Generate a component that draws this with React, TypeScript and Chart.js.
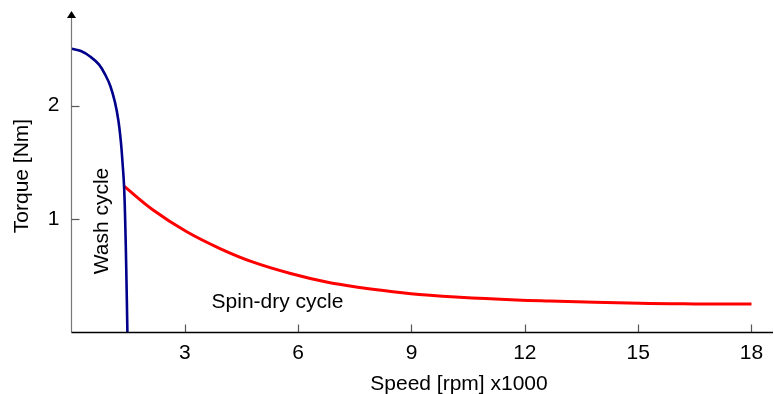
import React, { useEffect, useRef } from "react";
import { Chart, registerables } from "chart.js";

Chart.register(...registerables);

const washX = [0, 0.25, 0.5, 0.73, 0.91, 1.03, 1.15, 1.24, 1.31, 1.35, 1.39, 1.42, 1.45, 1.48];
const washY = [2.5, 2.48, 2.43, 2.36, 2.26, 2.17, 2.03, 1.87, 1.67, 1.5, 1.3, 1.0, 0.55, 0];

const spinX = [1.39, 2.16, 3.04, 3.93, 4.81, 5.8, 6.75, 7.63, 8.51, 9.4, 10.28, 11.78, 12.66, 15.04, 16.5, 18.0];
const spinY = [1.29, 1.08, 0.89, 0.74, 0.62, 0.52, 0.445, 0.397, 0.36, 0.33, 0.31, 0.287, 0.278, 0.257, 0.252, 0.251];

const xTicks = [3, 6, 9, 12, 15, 18];
const yTicks = [1, 2];

const xTitle = "Speed [rpm] x1000";
const yTitle = "Torque [Nm]";
const washLabel = "Wash cycle";
const spinLabel = "Spin-dry cycle";

const FONT_FAMILY = "'Liberation Sans', Arial, Helvetica, sans-serif";
const FONT_SIZE = 21;

const axesPlugin = {
  id: "customAxes",
  afterDraw(chart: any) {
    const ctx = chart.ctx;
    const { left, right, top, bottom } = chart.chartArea;
    const xs = chart.scales.x;
    const ys = chart.scales.y;
    ctx.save();
    // y axis line
    ctx.strokeStyle = "#777777";
    ctx.lineWidth = 1.2;
    ctx.beginPath();
    ctx.moveTo(left, bottom);
    ctx.lineTo(left, top);
    ctx.stroke();
    // y ticks (inward)
    ctx.strokeStyle = "#555555";
    yTicks.forEach((v) => {
      const p = Math.round(ys.getPixelForValue(v)) + 0.5;
      ctx.beginPath();
      ctx.moveTo(left, p);
      ctx.lineTo(left + 8, p);
      ctx.stroke();
    });
    // x ticks (inward)
    xTicks.forEach((v) => {
      const p = Math.round(xs.getPixelForValue(v)) + 0.5;
      ctx.beginPath();
      ctx.moveTo(p, bottom);
      ctx.lineTo(p, bottom - 8);
      ctx.stroke();
    });
    // x axis line
    ctx.strokeStyle = "#000000";
    ctx.lineWidth = 1.5;
    ctx.beginPath();
    ctx.moveTo(left, bottom);
    ctx.lineTo(right, bottom);
    ctx.stroke();
    // arrow
    ctx.fillStyle = "#000000";
    ctx.beginPath();
    ctx.moveTo(left, top - 6);
    ctx.lineTo(left - 4.5, top + 1);
    ctx.lineTo(left + 4.5, top + 1);
    ctx.closePath();
    ctx.fill();

    // texts
    ctx.fillStyle = "#000000";
    ctx.font = `${FONT_SIZE}px ${FONT_FAMILY}`;
    ctx.textAlign = "center";
    ctx.textBaseline = "alphabetic";
    ctx.fillText(xTitle, 459, 390);
    ctx.fillText(spinLabel, 277.5, 308);

    ctx.save();
    ctx.translate(28, 176);
    ctx.rotate(-Math.PI / 2);
    ctx.fillText(yTitle, 0, 0);
    ctx.restore();

    ctx.save();
    ctx.translate(108, 221);
    ctx.rotate(-Math.PI / 2);
    ctx.fillText(washLabel, 0, 0);
    ctx.restore();

    ctx.restore();
  },
};

export default function App() {
  const canvasRef = useRef<HTMLCanvasElement | null>(null);

  useEffect(() => {
    if (!canvasRef.current) return;
    const chart = new Chart(canvasRef.current, {
      type: "scatter",
      data: {
        datasets: [
          {
            label: washLabel,
            data: washX.map((x, i) => ({ x, y: washY[i] })),
            showLine: true,
            borderColor: "#00008b",
            borderWidth: 2.6,
            pointRadius: 0,
            tension: 0.4,
            fill: false,
          },
          {
            label: spinLabel,
            data: spinX.map((x, i) => ({ x, y: spinY[i] })),
            showLine: true,
            borderColor: "#ff0000",
            borderWidth: 3,
            pointRadius: 0,
            tension: 0.4,
            fill: false,
          },
        ],
      },
      options: {
        animation: false,
        responsive: false,
        devicePixelRatio: 1,
        layout: { padding: { top: 17, right: 1, left: 0, bottom: 0 } },
        plugins: {
          legend: { display: false },
          tooltip: { enabled: false },
        },
        scales: {
          x: {
            type: "linear",
            min: 0,
            max: 18.57,
            grid: { display: false, drawTicks: false },
            border: { display: false },
            afterBuildTicks: (scale: any) => {
              scale.ticks = xTicks.map((v) => ({ value: v }));
            },
            afterFit: (scale: any) => {
              scale.height = 61.5;
              scale.paddingLeft = 0;
              scale.paddingRight = 0;
            },
            ticks: {
              color: "#000000",
              padding: 8,
              maxRotation: 0,
              autoSkip: false,
              font: { family: FONT_FAMILY, size: FONT_SIZE },
            },
          },
          y: {
            type: "linear",
            min: 0,
            max: 2.78,
            grid: { display: false, drawTicks: false },
            border: { display: false },
            afterBuildTicks: (scale: any) => {
              scale.ticks = yTicks.map((v) => ({ value: v }));
            },
            afterFit: (scale: any) => {
              scale.width = 71.5;
              scale.paddingTop = 0;
              scale.paddingBottom = 0;
            },
            ticks: {
              color: "#000000",
              padding: 12,
              autoSkip: false,
              font: { family: FONT_FAMILY, size: FONT_SIZE },
            },
          },
        },
      },
      plugins: [axesPlugin],
    });
    return () => chart.destroy();
  }, []);

  return (
    <div style={{ position: "absolute", left: 0, top: 0, width: 774, height: 394, background: "#ffffff" }}>
      <canvas ref={canvasRef} width={774} height={394} />
    </div>
  );
}
